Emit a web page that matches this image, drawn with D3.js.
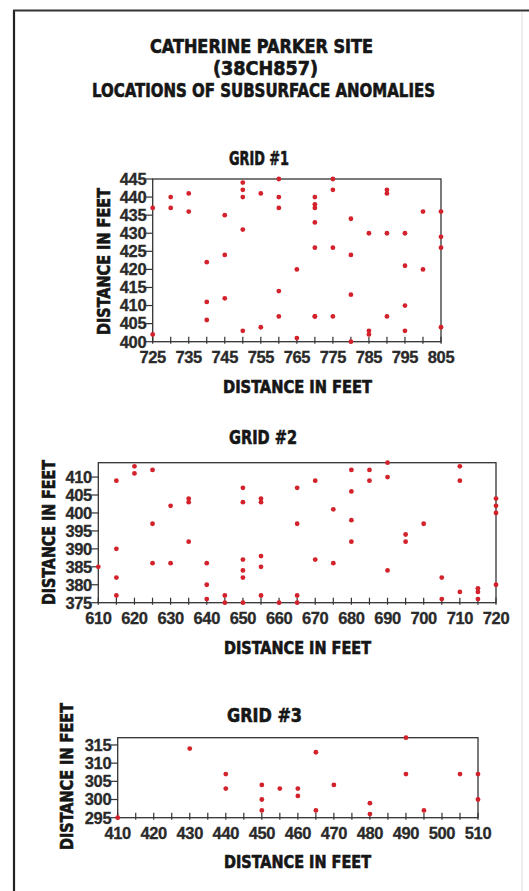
<!DOCTYPE html>
<html>
<head>
<meta charset="utf-8">
<script src="https://cdn.jsdelivr.net/npm/d3@7"></script>
<style>
  html, body { margin: 0; padding: 0; background: #fff; }
  svg { display: block; }
</style>
</head>
<body>
<svg id="chart" width="529" height="891"></svg>
<script>
// ---------------- DATA ----------------
const titleLines = ["CATHERINE  PARKER  SITE", "(38CH857)", "LOCATIONS OF  SUBSURFACE ANOMALIES"];
const axisLabel = "DISTANCE  IN  FEET";

// Grid #1
const grid1Title = "GRID #1";
const grid1X = [725,725,730,730,735,735,740,740,740,745,745,745,750,750,750,750,750,755,755,
                760,760,760,760,760,765,765,770,770,770,770,770,770,770,775,775,775,775,
                780,780,780,780,785,785,785,790,790,790,790,795,795,795,795,800,800,805,805,805,805];
const grid1Y = [437,402,440,437,441,436,422,411,406,435,424,412,444,442,440,431,403,441,404,
                445,440,437,414,407,420,401,440,438,437,433,426,407,407,445,442,426,407,
                434,424,413,400,430,403,402,442,441,430,407,430,421,410,403,436,420,436,429,426,404];
const grid1XDomain = [725, 805];
const grid1YDomain = [400, 445];
const grid1XTicks = d3.range(725, 806, 5);
const grid1XLabels = d3.range(725, 806, 10);
const grid1YTicks = d3.range(400, 446, 5);

// Grid #2
const grid2Title = "GRID #2";
const grid2X = [610,615,615,615,615,620,620,625,625,625,630,630,635,635,635,640,640,640,645,645,
                650,650,650,650,650,650,655,655,655,655,655,660,665,665,665,665,670,670,675,675,
                680,680,680,680,685,685,690,690,690,695,695,700,705,705,710,710,710,715,715,715,
                720,720,720,720];
const grid2Y = [385,409,390,382,377,413,411,412,397,386,402,386,404,403,392,386,380,376,377,375,
                407,403,387,384,382,375,404,403,388,385,377,375,407,397,377,375,409,387,401,386,
                412,406,398,392,412,409,414,410,384,394,392,397,382,376,413,409,378,379,378,376,
                404,402,400,380];
const grid2XDomain = [610, 720];
const grid2YDomain = [375, 414];
const grid2XTicks = d3.range(610, 721, 5);
const grid2XLabels = d3.range(610, 721, 10);
const grid2YTicks = d3.range(375, 411, 5);

// Grid #3
const grid3Title = "GRID #3";
const grid3X = [410,430,440,440,450,450,450,455,460,460,465,465,470,480,480,490,490,495,505,510,510];
const grid3Y = [295,314,307,303,304,300,297,303,303,301,313,297,304,299,296,317,307,297,307,307,300];
const grid3XDomain = [410, 510];
const grid3YDomain = [295, 317];
const grid3XTicks = d3.range(410, 511, 5);
const grid3XLabels = d3.range(410, 511, 10);
const grid3YTicks = d3.range(295, 316, 5);

// ---------------- LAYOUT ----------------
const svg = d3.select("#chart");
const headFont = "'DejaVu Sans Condensed', 'DejaVu Sans', sans-serif";
const tickFont = "'Liberation Sans', Arial, sans-serif";
const ink = "#161616";
const frame = "#333";
const dotColor = "#d3222b";

// page border
svg.append("line").attr("x1", 14).attr("y1", 10).attr("x2", 14).attr("y2", 891)
  .attr("stroke", "#222").attr("stroke-width", 2.2);
svg.append("line").attr("x1", 13).attr("y1", 10.5).attr("x2", 529).attr("y2", 10.5)
  .attr("stroke", "#333").attr("stroke-width", 2.2);
svg.append("line").attr("x1", 522).attr("y1", 12).attr("x2", 522).attr("y2", 891)
  .attr("stroke", "#ddd").attr("stroke-width", 1);

function fitText(sel, x1, x2, baseline, size, rotate) {
  const t = svg.append("text")
    .attr("font-family", headFont)
    .attr("font-weight", "bold")
    .attr("font-size", size)
    .attr("fill", ink)
    .attr("stroke", ink)
    .attr("stroke-width", 0.6)
    .attr("text-anchor", "middle")
    .attr("textLength", Math.abs(x2 - x1))
    .attr("lengthAdjust", "spacingAndGlyphs")
    .text(sel);
  if (rotate) {
    const cy = (x1 + x2) / 2;
    t.attr("transform", `translate(${baseline},${cy}) rotate(-90)`);
  } else {
    t.attr("x", (x1 + x2) / 2).attr("y", baseline);
  }
  return t;
}

// titles
fitText(titleLines[0], 150, 373, 53, 19);
fitText(titleLines[1], 213, 318, 75, 19);
fitText(titleLines[2], 92, 435, 97, 19);

function drawGrid(cfg) {
  const x = d3.scaleLinear().domain(cfg.xDomain).range([cfg.left, cfg.right]);
  const y = d3.scaleLinear().domain(cfg.yDomain).range([cfg.bottom, cfg.top]);
  const g = svg.append("g");

  g.append("rect")
    .attr("x", cfg.left).attr("y", cfg.top)
    .attr("width", cfg.right - cfg.left).attr("height", cfg.bottom - cfg.top)
    .attr("fill", "none").attr("stroke", frame).attr("stroke-width", 1.3);

  g.selectAll(".xt").data(cfg.xTicks).join("line")
    .attr("x1", d => x(d)).attr("x2", d => x(d))
    .attr("y1", cfg.bottom - 5).attr("y2", cfg.bottom + 2)
    .attr("stroke", frame).attr("stroke-width", 1.2);
  g.selectAll(".xl").data(cfg.xLabels).join("text")
    .attr("x", d => x(d)).attr("y", cfg.bottom + 21)
    .attr("text-anchor", "middle")
    .attr("font-family", tickFont).attr("font-weight", "bold")
    .attr("font-size", 16.5).attr("fill", "#2a2a2a")
    .attr("stroke", "#2a2a2a").attr("stroke-width", 0.3)
    .attr("letter-spacing", -0.4)
    .text(d => d);

  g.selectAll(".yt").data(cfg.yTicks).join("line")
    .attr("x1", cfg.left - 7).attr("x2", cfg.left)
    .attr("y1", d => y(d)).attr("y2", d => y(d))
    .attr("stroke", frame).attr("stroke-width", 1.2);
  g.selectAll(".yl").data(cfg.yTicks).join("text")
    .attr("x", cfg.left - 6.5).attr("y", d => y(d) + 5.8)
    .attr("text-anchor", "end")
    .attr("font-family", tickFont).attr("font-weight", "bold")
    .attr("font-size", 16.5).attr("fill", "#2a2a2a")
    .attr("stroke", "#2a2a2a").attr("stroke-width", 0.3)
    .attr("letter-spacing", -0.4)
    .text(d => d);

  const pts = cfg.xs.map((v, i) => [v, cfg.ys[i]]);
  g.selectAll(".pt").data(pts).join("circle")
    .attr("cx", d => x(d[0])).attr("cy", d => y(d[1]))
    .attr("r", 2.4).attr("fill", dotColor);

  fitText(cfg.title, cfg.titleX[0], cfg.titleX[1], cfg.titleY, 19);
  fitText(axisLabel, cfg.xLabX[0], cfg.xLabX[1], cfg.xLabY, 17);
  fitText(axisLabel, cfg.yLabY[0], cfg.yLabY[1], cfg.yLabX, 17, true);
}

drawGrid({
  xs: grid1X, ys: grid1Y, xDomain: grid1XDomain, yDomain: grid1YDomain,
  xTicks: grid1XTicks, xLabels: grid1XLabels, yTicks: grid1YTicks,
  left: 152.7, right: 441, top: 179, bottom: 341.7,
  title: grid1Title, titleX: [229, 289], titleY: 165,
  xLabX: [223, 372], xLabY: 393,
  yLabY: [188, 335], yLabX: 110
});

drawGrid({
  xs: grid2X, ys: grid2Y, xDomain: grid2XDomain, yDomain: grid2YDomain,
  xTicks: grid2XTicks, xLabels: grid2XLabels, yTicks: grid2YTicks,
  left: 98.3, right: 496, top: 462.7, bottom: 602.7,
  title: grid2Title, titleX: [229, 297], titleY: 444,
  xLabX: [224, 371], xLabY: 654,
  yLabY: [460, 605], yLabX: 55
});

drawGrid({
  xs: grid3X, ys: grid3Y, xDomain: grid3XDomain, yDomain: grid3YDomain,
  xTicks: grid3XTicks, xLabels: grid3XLabels, yTicks: grid3YTicks,
  left: 117.7, right: 478, top: 737.7, bottom: 817.7,
  title: grid3Title, titleX: [227, 302], titleY: 722,
  xLabX: [224, 371], xLabY: 868,
  yLabY: [703, 850], yLabX: 73
});
</script>
</body>
</html>
